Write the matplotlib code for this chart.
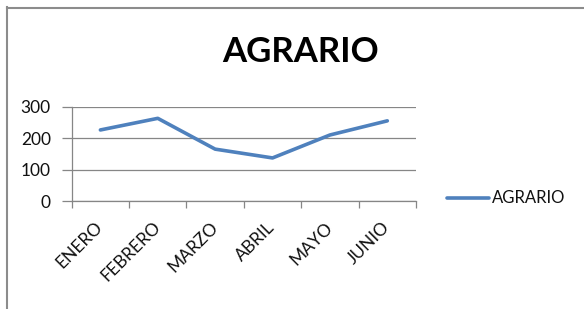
import matplotlib
matplotlib.use("Agg")
import matplotlib.pyplot as plt
from matplotlib.lines import Line2D
import numpy as np

months = ["ENERO", "FEBRERO", "MARZO", "ABRIL", "MAYO", "JUNIO"]
agrario = [226, 263, 165, 137, 210, 255]
yticks = [0, 100, 200, 300]

W, H = 584, 309
fig = plt.figure(figsize=(W/100, H/100), dpi=100)
fig.patch.set_facecolor("white")

font = ["Lato", "DejaVu Sans"]
frame_c = "#8c8c8c"
fig.add_artist(Line2D([7/W, 7/W], [0, 1 - 7/H], transform=fig.transFigure, color=frame_c, lw=1.5))
fig.add_artist(Line2D([7/W, 1], [1 - 8/H, 1 - 8/H], transform=fig.transFigure, color=frame_c, lw=1.5))

ax = fig.add_axes([71.7/W, 1 - 201/H, (416 - 71.7)/W, (201 - 106.7)/H])
x = np.arange(len(months))
ax.plot(x, agrario, color="#4F81BD", lw=2.6, solid_capstyle="round", solid_joinstyle="round", label="AGRARIO")
ax.set_xlim(-0.5, len(months) - 0.5)
ax.set_ylim(0, 300)
ax.set_yticks(yticks)
ax.grid(axis="y", color="#868686", lw=0.9)
ax.set_axisbelow(True)
for s in ["top", "right"]:
    ax.spines[s].set_visible(False)
for s in ["bottom", "left"]:
    ax.spines[s].set_color("#868686")
    ax.spines[s].set_linewidth(0.9)

ax.set_xticks(np.arange(-0.5, len(months)), labels=[""] * (len(months) + 1))
ax.set_xticks(x, minor=True)
ax.set_xticklabels(months, minor=True, rotation=45, ha="right", va="center", rotation_mode="anchor",
                   fontsize=12.5, family=font, color="#111111")
ax.tick_params(axis="x", which="major", length=5, color="#868686", width=0.9, direction="out")
ax.tick_params(axis="x", which="minor", length=0, pad=17)
ax.tick_params(axis="y", length=7, color="#868686", width=0.9, direction="out", pad=8)
for t in ax.get_yticklabels():
    t.set_fontsize(12.5)
    t.set_family(font)
    t.set_color("#111111")

fig.text(301/W, 1 - 52/H, "AGRARIO", ha="center", va="center", fontsize=25, fontweight="bold",
         family=font, color="black")

fig.add_artist(Line2D([447/W, 489/W], [1 - 198/H, 1 - 198/H], transform=fig.transFigure,
                      color="#4F81BD", lw=2.6, solid_capstyle="round"))
fig.text(492/W, 1 - 198/H, "AGRARIO", ha="left", va="center", fontsize=12, family=font, color="#111111")

fig.savefig("out.png", dpi=100)
